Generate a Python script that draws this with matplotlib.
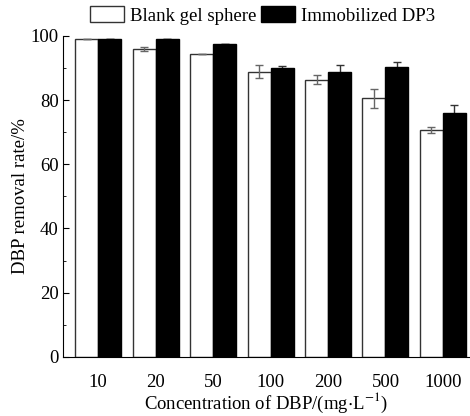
import matplotlib.pyplot as plt
import numpy as np
from matplotlib.ticker import MultipleLocator

# Dados
concentracoes = ['10', '20', '50', '100', '200', '500', '1000']
blank = [98.9, 95.9, 94.2, 88.8, 86.3, 80.5, 70.7]
blank_err = [0.0, 0.6, 0.0, 2.0, 1.4, 3.0, 0.9]
imobilizado = [98.9, 98.9, 97.4, 89.9, 88.7, 90.2, 75.9]
imobilizado_err = [0.0, 0.0, 0.0, 0.6, 2.1, 1.6, 2.6]

plt.rcParams['font.family'] = ['Liberation Serif', 'DejaVu Serif']
plt.rcParams['mathtext.fontset'] = 'stix'

fs = 13.5

fig = plt.figure(figsize=(4.7, 4.16), dpi=100)
ax = fig.add_axes([0.134, 0.142, 0.866, 0.772])

x = np.arange(len(concentracoes))
w = 0.4

ax.bar(x - w / 2, blank, w, color='white', edgecolor='#333333', linewidth=1.0,
       label='Blank gel sphere', zorder=2)
ax.errorbar(x - w / 2, blank, yerr=blank_err, fmt='none', ecolor='#666666',
            elinewidth=1.0, capsize=3, capthick=1.0, zorder=3)
ax.errorbar(x + w / 2, imobilizado, yerr=imobilizado_err, fmt='none', ecolor='#333333',
            elinewidth=1.0, capsize=3, capthick=1.0, zorder=1)
ax.bar(x + w / 2, imobilizado, w, color='black', edgecolor='black', linewidth=1.0,
       label='Immobilized DP3', zorder=2)

ax.set_xlim(-0.61, 6.47)
ax.set_ylim(0, 100)
ax.set_xticks(x)
ax.set_xticklabels(concentracoes)
ax.yaxis.set_major_locator(MultipleLocator(20))
ax.yaxis.set_minor_locator(MultipleLocator(10))
ax.tick_params(axis='x', length=0, labelsize=fs, pad=12)
ax.tick_params(axis='y', which='major', direction='in', length=4, labelsize=fs, pad=3)
ax.tick_params(axis='y', which='minor', direction='in', length=2.5)

ax.spines['top'].set_visible(False)
ax.spines['right'].set_visible(False)

ax.set_xlabel(r'Concentration of DBP/(mg$\cdot$L$^{-1}$)', fontsize=fs, labelpad=0)
ax.set_ylabel('DBP removal rate/%', fontsize=fs, labelpad=1.5)

ax.legend(loc='lower center', bbox_to_anchor=(0.49, 1.0), ncol=2, frameon=False,
          fontsize=fs, handlelength=1.8, handleheight=0.9, handletextpad=0.32,
          columnspacing=0.25, borderaxespad=0.2)

plt.savefig('out.png', dpi=100)
